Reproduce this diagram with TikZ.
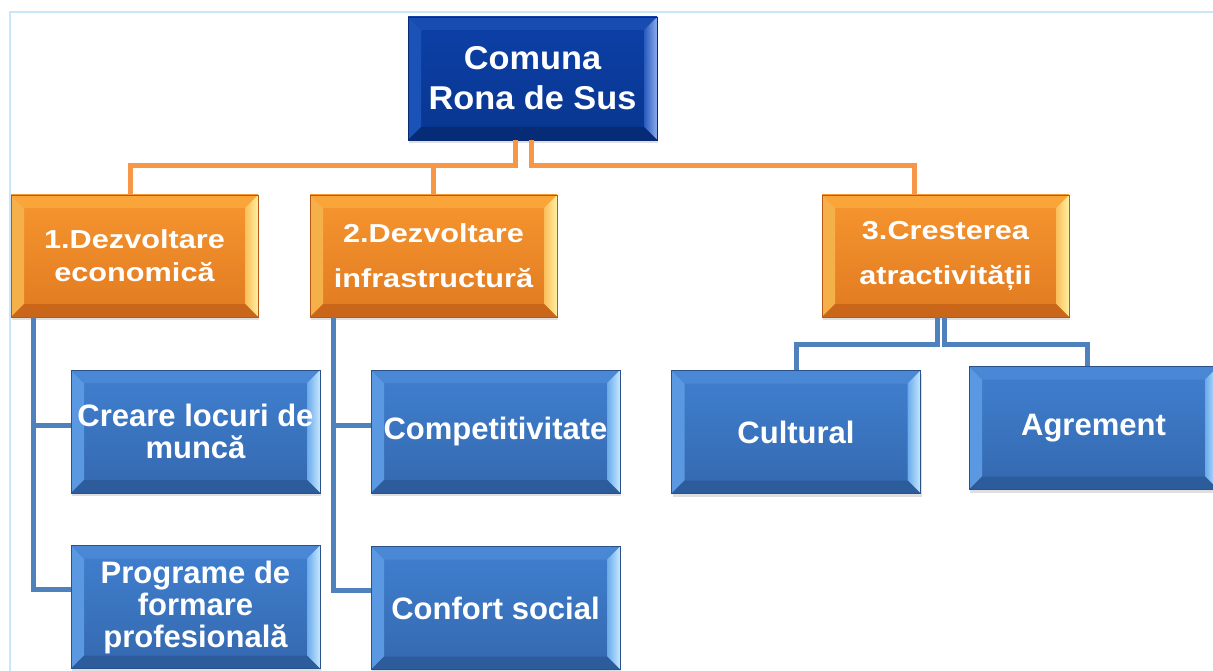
\documentclass[tikz,border=0pt]{standalone}
\usepackage{fontspec}
\setmainfont{Liberation Sans}
\newfontfamily\topfont[FakeStretch=1.04]{Liberation Sans}
\newfontfamily\goalfont[FakeStretch=1.18]{Liberation Sans}
\usetikzlibrary{shadows}
\definecolor{framecol}{HTML}{C9E7F8}
\definecolor{linkorange}{HTML}{F79646}
\definecolor{linkblue}{HTML}{4F81BD}
% commune box
\definecolor{navyline}{HTML}{082A70}
\definecolor{navytop}{HTML}{0D40A8}
\definecolor{navybot}{HTML}{08368F}
\definecolor{navyleft}{HTML}{1A52B8}
\definecolor{navyup}{HTML}{184CB0}
\definecolor{navyright}{HTML}{285ABE}
\definecolor{navyshine}{HTML}{8CACEC}
\definecolor{navydown}{HTML}{062C78}
% direction boxes
\definecolor{goalline}{HTML}{B5581A}
\definecolor{goaltop}{HTML}{F79630}
\definecolor{goalbot}{HTML}{E07A20}
\definecolor{goalleft}{HTML}{F6B049}
\definecolor{goalup}{HTML}{F9A53A}
\definecolor{goalright}{HTML}{FABE5A}
\definecolor{goalshine}{HTML}{FFF0A0}
\definecolor{goaldown}{HTML}{C9661A}
% action boxes
\definecolor{actline}{HTML}{2A5288}
\definecolor{acttop}{HTML}{4080D0}
\definecolor{actbot}{HTML}{3468AE}
\definecolor{actleft}{HTML}{5A98E2}
\definecolor{actup}{HTML}{4A88D6}
\definecolor{actright}{HTML}{6AAAEB}
\definecolor{actshine}{HTML}{C6E8FF}
\definecolor{actdown}{HTML}{2C5C9C}
\tikzset{
  bevel/.style n args={5}{path picture={
      \path (path picture bounding box.north west) coordinate (bnw)
            (path picture bounding box.north east) coordinate (bne)
            (path picture bounding box.south west) coordinate (bsw)
            (path picture bounding box.south east) coordinate (bse);
      \fill[#1] (bnw) -- (bsw) -- ([shift={(13pt,13pt)}]bsw) -- ([shift={(13pt,-13pt)}]bnw) -- cycle;
      \fill[#2] (bnw) -- (bne) -- ([shift={(-13pt,-13pt)}]bne) -- ([shift={(13pt,-13pt)}]bnw) -- cycle;
      \shade[left color=#3, right color=#4] (bne) -- (bse) -- ([shift={(-13pt,13pt)}]bse) -- ([shift={(-13pt,-13pt)}]bne) -- cycle;
      \fill[#5] (bsw) -- (bse) -- ([shift={(-13pt,13pt)}]bse) -- ([shift={(13pt,13pt)}]bsw) -- cycle;
  }},
  box/.style={draw, line width=0.8pt, inner sep=0pt, align=center, text=white,
    minimum width=249pt, minimum height=123pt,
    drop shadow={opacity=0.25, shadow xshift=1pt, shadow yshift=-3pt}},
  topbox/.style={box, draw=navyline, top color=navytop, bottom color=navybot,
    bevel={navyleft}{navyup}{navyright}{navyshine}{navydown},
    font=\topfont\bfseries\fontsize{33}{40}\selectfont},
  goal/.style={box, minimum width=247pt, minimum height=122pt, draw=goalline,
    top color=goaltop, bottom color=goalbot,
    bevel={goalleft}{goalup}{goalright}{goalshine}{goaldown},
    font=\goalfont\bfseries\fontsize{26}{33}\selectfont},
  action/.style={box, draw=actline, top color=acttop, bottom color=actbot,
    bevel={actleft}{actup}{actright}{actshine}{actdown},
    font=\bfseries\fontsize{31}{32}\selectfont},
  orangeline/.style={draw=linkorange, line width=5pt},
  blueline/.style={draw=linkblue, line width=5pt},
}
\begin{document}
\begin{tikzpicture}[x=1pt,y=-1pt]
  \useasboundingbox (0,0) rectangle (1213,671);
  % thin frame
  \draw[framecol, line width=2pt] (10,671) -- (10,12) -- (1213,12);
  % commune
  \node[topbox] (top) at (532.5,78.5) {Comuna\\Rona de Sus};
  % main directions
  \node[goal] (o1) at (134.5,256) {1.Dezvoltare\\economică};
  \node[goal] (o2) at (433.5,256) {2.Dezvoltare\\[12pt]infrastructură};
  \node[goal] (o3) at (945.5,256) {3.Cresterea\\[12pt]atractivității};
  % actions
  \node[action] (c1) at (195.5,431.5) {Creare locuri de\\muncă};
  \node[action] (c2) at (195.5,607) {Programe de\\formare\\profesională};
  \node[action] (c3) at (495.5,431.5) {Competitivitate};
  \node[action] (c4) at (495.5,608) {Confort social};
  \node[action] (cu) at (796,432) {Cultural};
  \node[action] (ag) at (1093.5,428) {Agrement};
  % links to directions
  \draw[orangeline] ([xshift=-17pt]top.south) -- ++(0,25) -| ([xshift=-4pt]o1.north);
  \draw[orangeline] ([xshift=-17pt]top.south) -- ++(0,25) -| (o2.north);
  \draw[orangeline] ([xshift=-1pt]top.south) -- ++(0,25) -| ([xshift=-31pt]o3.north);
  % links to actions
  \draw[blueline] ([xshift=23pt]o1.south west) |- ([yshift=6pt]c1.west);
  \draw[blueline] ([xshift=23pt]o1.south west) |- ([yshift=18pt]c2.west);
  \draw[blueline] ([xshift=24pt]o2.south west) |- ([yshift=6pt]c3.west);
  \draw[blueline] ([xshift=24pt]o2.south west) |- ([yshift=18pt]c4.west);
  \draw[blueline] ([xshift=-8.5pt]o3.south) -- ++(0,27) -| (cu.north);
  \draw[blueline] ([xshift=-1.5pt]o3.south) -- ++(0,27) -| ([xshift=-6pt]ag.north);
\end{tikzpicture}
\end{document}
